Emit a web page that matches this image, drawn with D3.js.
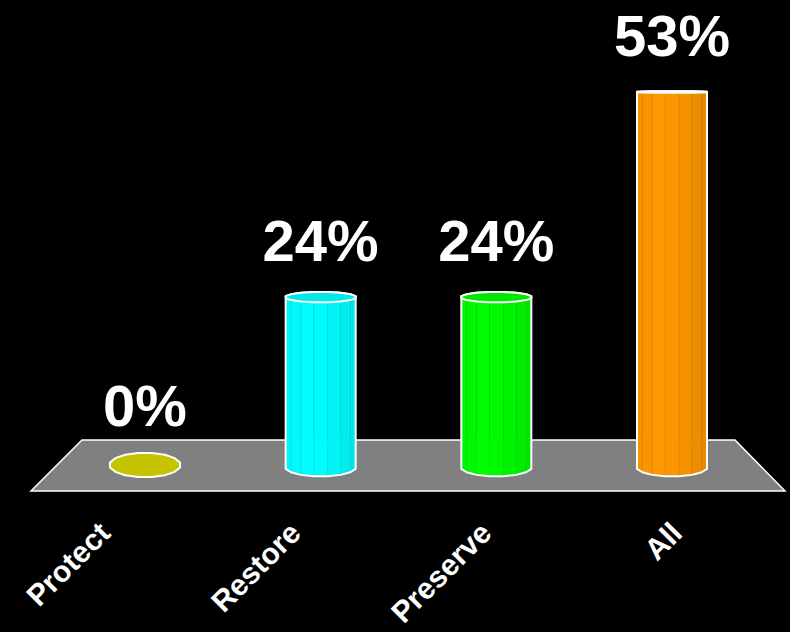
<!DOCTYPE html>
<html>
<head>
<meta charset="utf-8">
<script src="https://cdn.jsdelivr.net/npm/d3@7"></script>
<style>
  html, body { margin: 0; padding: 0; background: #000; }
  svg { display: block; }
</style>
</head>
<body>
<svg id="chart" width="790" height="632"></svg>
<script>
// ---- data ----
const categories = ["Protect", "Restore", "Preserve", "All"];
const values = [0, 24, 24, 53];
const valueLabels = ["0%", "24%", "24%", "53%"];
const barColors = ["#c4c400", "#00ffff", "#00ff00", "#ff9900"];

// ---- layout ----
const W = 790, H = 632;
const svg = d3.select("#chart");
svg.append("rect").attr("width", W).attr("height", H).attr("fill", "#000");

const baseY = 467;      // centre of base ellipse
const barR = 35;        // half width of a bar
const N = 16;           // facets of each cylinder
const step = 2 * Math.PI / N;
const R = barR / Math.cos(Math.PI / N);
const eyeY = 88;
const ry = y => Math.max(0.8, (y - eyeY) * 0.025);

const x = d3.scalePoint().domain(categories).range([145, 672]);
const xLabel = d3.scalePoint().domain(categories).range([112, 684]);
const y = d3.scaleLinear().domain([0, 53]).range([baseY, 92]);

// floor
const floor = [[31, 491], [785, 491], [735, 440], [82, 440]];
svg.append("polygon")
  .attr("points", floor.map(p => p.join(",")).join(" "))
  .attr("fill", "#808080")
  .attr("stroke", "#fff")
  .attr("stroke-width", 1.5);

function pt(cx, cy, th, r) {
  return [cx + R * Math.cos(th), cy + (r || ry(cy)) * Math.sin(th)];
}

const data = categories.map((c, i) => ({ c, v: values[i], label: valueLabels[i], color: barColors[i] }));

const g = svg.append("g");
data.forEach(d => {
  const cx = x(d.c);
  let yTop = y(d.v);
  const yBot = baseY;
  const base = d3.rgb(d.color);
  const dark = base.darker(1.1);
  const shade = t => d3.interpolateRgb(base, dark)(t);
  const bg = g.append("g");
  let topR = ry(yTop);

  if (d.v > 0) {
    // front facets
    for (let k = 0; k < N / 2 - 1; k++) {
      const a = (k + 0.5) * step, b = (k + 1.5) * step;
      const mid = (k + 1) * step; // 0 = right, PI/2 = front, PI = left
      const ang = mid * 180 / Math.PI;
      let t;
      if (ang < 105) t = (105 - ang) / 105 * 0.38;
      else t = (ang - 105) / 75 * 0.18;
      const poly = [pt(cx, yTop, a), pt(cx, yTop, b), pt(cx, yBot, b), pt(cx, yBot, a)];
      bg.append("polygon")
        .attr("points", poly.map(p => p.join(",")).join(" "))
        .attr("fill", shade(t))
        .attr("stroke", shade(Math.min(1, t + 0.25)))
        .attr("stroke-width", 0.6);
    }
    // outline
    const outline = [];
    for (let k = 0; k < N / 2; k++) outline.push(pt(cx, yTop, -(k + 0.5) * step));
    for (let k = N / 2 - 1; k >= 0; k--) outline.push(pt(cx, yBot, (k + 0.5) * step));
    bg.append("polygon")
      .attr("points", outline.map(p => p.join(",")).join(" "))
      .attr("fill", "none")
      .attr("stroke", "#fff")
      .attr("stroke-width", 2)
      .attr("stroke-linejoin", "round");
  } else {
    // a zero-height bar is drawn as a flat puddle on the floor
    topR = ry(yBot) * 1.3;
    yTop = yBot - 2;
  }
  // top face
  const top = d3.range(N).map(k => pt(cx, yTop, (k + 0.5) * step, topR));
  bg.append("polygon")
    .attr("points", top.map(p => p.join(",")).join(" "))
    .attr("fill", d.v > 0 ? shade(0.28) : base.toString())
    .attr("stroke", "#fff")
    .attr("stroke-width", 2)
    .attr("stroke-linejoin", "round");

  // value label
  const topEdge = yTop - topR;
  const gap = 35 - (topEdge - 91) * 0.022;
  svg.append("text")
    .attr("x", cx)
    .attr("y", topEdge - gap)
    .attr("text-anchor", "middle")
    .attr("font-family", "'Liberation Sans', Arial, sans-serif")
    .attr("font-weight", "bold")
    .attr("font-size", 58)
    .attr("fill", "#fff")
    .text(d.label);
});

// category labels
svg.append("g").selectAll("text")
  .data(categories)
  .join("text")
  .attr("transform", c => `translate(${xLabel(c)},535) rotate(-45)`)
  .attr("text-anchor", "end")
  .attr("font-family", "'Liberation Sans', Arial, sans-serif")
  .attr("font-weight", "bold")
  .attr("font-size", 30)
  .attr("fill", "#fff")
  .text(c => c);
</script>
</body>
</html>
